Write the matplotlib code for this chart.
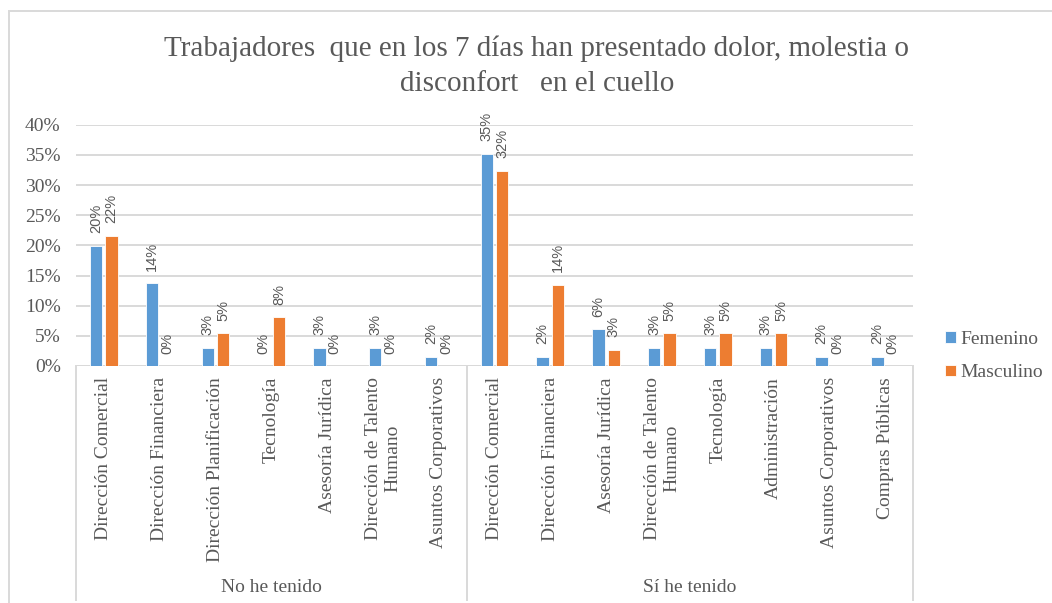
import numpy as np
import matplotlib
matplotlib.use("Agg")
import matplotlib.pyplot as plt
from matplotlib.patches import Rectangle

# datos (porcentajes)
grupos = ["No he tenido", "Sí he tenido"]
cats_no = ["Dirección Comercial", "Dirección Financiera", "Dirección Planificación",
           "Tecnología", "Asesoría Jurídica", "Dirección de Talento\nHumano",
           "Asuntos Corporativos"]
cats_si = ["Dirección Comercial", "Dirección Financiera", "Asesoría Jurídica",
           "Dirección de Talento\nHumano", "Tecnología", "Administración",
           "Asuntos Corporativos", "Compras Públicas"]
femenino = [19.9, 13.7, 3.0, 0.0, 3.0, 3.0, 1.5,
            35.2, 1.5, 6.1, 3.0, 3.0, 3.0, 1.5, 1.5]
masculino = [21.6, 0.0, 5.4, 8.1, 0.0, 0.0, 0.0,
             32.4, 13.5, 2.7, 5.4, 5.4, 5.4, 0.0, 0.0]

titulo = ("Trabajadores  que en los 7 días han presentado dolor, molestia o\n"
          "disconfort   en el cuello")

azul = "#5B9BD5"
naranja = "#ED7D31"
gris_txt = "#595959"
gris_lin = "#D9D9D9"
serif = "Liberation Serif"

W, H = 1052, 603
fig = plt.figure(figsize=(W / 100, H / 100), dpi=100)
ax = fig.add_axes([76 / W, 1 - 366 / H, (913 - 76) / W, (366 - 124.7) / H])

cats = cats_no + cats_si
x = np.arange(len(cats))
off = 0.138
bw = 0.22
b1 = ax.bar(x - off, femenino, bw, color=azul, edgecolor="white", linewidth=0.6, label="Femenino", zorder=3)
b2 = ax.bar(x + off, masculino, bw, color=naranja, edgecolor="white", linewidth=0.6, label="Masculino", zorder=3)

for b in (b1, b2):
    ax.bar_label(b, fmt=lambda v: f"{v:.0f}%", rotation=90, padding=9,
                 fontsize=10.5, color=gris_txt, family="Liberation Sans")

ax.set_xlim(-0.5, len(cats) - 0.5)
ax.set_ylim(0, 40)
ax.set_yticks(np.arange(0, 41, 5))
ax.set_yticklabels([f"{v}%" for v in range(0, 41, 5)], family=serif, fontsize=14, color=gris_txt)
ax.tick_params(axis="y", length=0, pad=11)
ax.set_xticks(x)
ax.set_xticklabels(cats, rotation=90, va="top", ha="center", family=serif,
                   fontsize=14, color=gris_txt, multialignment="center")
ax.tick_params(axis="x", length=0, pad=8)
ax.yaxis.grid(True, color=gris_lin, linewidth=1.4, zorder=0)
ax.set_axisbelow(True)
for s in ax.spines.values():
    s.set_visible(False)
ax.axhline(0, color=gris_lin, linewidth=1.4, zorder=2)

# separadores de grupos y etiquetas de grupo
xt = ax.get_xaxis_transform()
bordes = [-0.5, len(cats_no) - 0.5, len(cats) - 0.5]
for b in bordes:
    ax.plot([b, b], [0, -(600 - 366) / (366 - 124.7)], color=gris_lin, linewidth=1.4,
            transform=xt, clip_on=False)
centros = [(bordes[0] + bordes[1]) / 2, (bordes[1] + bordes[2]) / 2]
for c, g in zip(centros, grupos):
    ax.text(c, -(588 - 366) / (366 - 124.7), g, transform=xt, ha="center", va="center",
            family=serif, fontsize=14, color=gris_txt)

fig.text(537 / W, 1 - 66 / H, titulo, ha="center", va="center", family=serif,
         fontsize=21, color=gris_txt, linespacing=1.45)

fig.legend(handles=[b1, b2], loc="center left", bbox_to_anchor=(939 / W, 1 - 356 / H),
           frameon=False, prop={"family": serif, "size": 14}, labelcolor=gris_txt,
           handlelength=0.55, handleheight=0.55, handletextpad=0.25, labelspacing=0.85,
           borderaxespad=0, borderpad=0.3)

fig.patches.append(Rectangle((9 / W, -0.1), 1.2, 1.1 - 11 / H, transform=fig.transFigure,
                             fill=False, edgecolor=gris_lin, linewidth=1.4))

fig.savefig("out.png", dpi=100)
